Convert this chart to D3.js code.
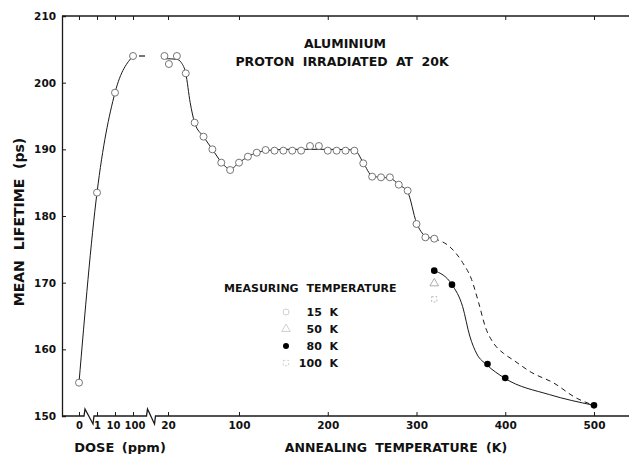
<!DOCTYPE html>
<html>
<head>
<meta charset="utf-8">
<script src="https://cdn.jsdelivr.net/npm/d3@7"></script>
<style>
  body { margin: 0; background: #fff; }
  svg text { font-family: "DejaVu Sans", sans-serif; font-weight: bold; fill: #111; }
</style>
</head>
<body>
<div id="chart"></div>
<script>
// dose part (left of the break)
var doseCats = ["0", "1", "10", "100"];
var doseVals = [155, 183.5, 198.5, 204];

// annealing, measured at 15 K (open circles)
var anneal15K = [16, 21, 30, 40, 50, 60, 70, 80, 90, 100, 110, 120, 130, 140, 150, 160, 170, 180, 190, 200, 210, 220, 230, 240, 250, 260, 270, 280, 290, 300, 310, 320];
var anneal15V = [204, 202.8, 204, 201.4, 194, 191.9, 190, 188, 186.9, 188, 188.9, 189.5, 189.9, 189.8, 189.8, 189.8, 189.8, 190.5, 190.5, 189.8, 189.8, 189.8, 189.8, 187.9, 185.9, 185.8, 185.8, 184.7, 183.8, 178.8, 176.8, 176.6];

// hand drawn guide through the 15 K points
var fit15K = [17, 30, 35, 40, 45, 50, 60, 70, 80, 90, 100, 110, 120, 130, 140, 150, 200, 230, 240, 250, 260, 270, 280, 290, 300, 310, 320];
var fit15V = [203.6, 203.5, 203, 201.4, 197, 194, 191.9, 190, 188.1, 187, 188, 188.9, 189.5, 189.8, 189.9, 190, 190, 189.9, 188, 186, 185.8, 185.7, 184.7, 183.6, 179, 177, 176.6];

// dashed continuation of the 15 K curve
var dashK = [320, 339, 352, 362, 370, 378, 387, 398, 409, 430, 454, 480, 500];
var dashV = [176.6, 175.2, 173, 170.5, 167, 163.2, 160.9, 159.4, 158.4, 156.5, 155, 152.7, 151.6];

// measured at 80 K (filled)
var anneal80K = [320, 340, 380, 400, 500];
var anneal80V = [171.8, 169.7, 157.8, 155.7, 151.6];
var fit80K = [320, 340, 352, 360, 368, 379, 399, 450, 500];
var fit80V = [171.8, 169.7, 166.4, 162, 159.3, 157.7, 155.7, 153.2, 151.6];

// single points at 50 K and 100 K
var anneal50 = [[320, 169.9]];
var anneal100 = [[320, 167.5]];

var yTicks = [150, 160, 170, 180, 190, 200, 210];
var annealTicks = [20, 100, 200, 300, 400, 500];
var legendLabels = ["15  K", "50  K", "80  K", "100  K"];

var width = 630, height = 454;
var svg = d3.select("#chart").append("svg")
    .attr("width", width).attr("height", height);

var y = d3.scaleLinear().domain([150, 210]).range([416, 16]);
var xd = d3.scalePoint().domain(doseCats).range([79, 133]);
var xa = d3.scaleLinear().domain([20, 500]).range([168, 594]);

var ink = "#1a1a1a";

// left axis, ticks inward
var yAxis = svg.append("g")
    .attr("transform", "translate(62,0)")
    .call(d3.axisLeft(y).tickValues(yTicks).tickSize(-4).tickPadding(6));
yAxis.select(".domain").attr("stroke", ink).attr("stroke-width", 1.3);
yAxis.selectAll(".tick line").attr("stroke", ink);
yAxis.selectAll("text").style("font-size", "10.5px").style("font-family", "DejaVu Sans").style("font-weight", "bold");

// bottom axis line with the two breaks
var base = y(150);
var b1 = (xd("0") + xd("1")) / 2 - 4;
var b2 = (xd("100") + xa(20)) / 2 - 4;
var axisPath = d3.path();
axisPath.moveTo(62, base);
axisPath.lineTo(b1, base);
axisPath.lineTo(b1 + 1, base - 7);
axisPath.lineTo(b1 + 9, base + 8);
axisPath.lineTo(b1 + 10, base);
axisPath.lineTo(b2, base);
axisPath.lineTo(b2 + 1, base - 7);
axisPath.lineTo(b2 + 8, base + 8);
axisPath.lineTo(b2 + 9, base);
axisPath.lineTo(629, base);
svg.append("path").attr("d", axisPath.toString())
    .attr("fill", "none").attr("stroke", ink).attr("stroke-width", 1.3);

var gDoseB = svg.append("g").attr("transform", "translate(0," + base + ")")
    .call(d3.axisBottom(xd).tickSize(-4).tickPadding(6));
var gAnnB = svg.append("g").attr("transform", "translate(0," + base + ")")
    .call(d3.axisBottom(xa).tickValues(annealTicks).tickSize(-4).tickPadding(6));
[gDoseB, gAnnB].forEach(function (g) {
    g.select(".domain").remove();
    g.selectAll(".tick line").attr("stroke", ink);
    g.selectAll("text").style("font-size", "10.5px").style("font-family", "DejaVu Sans").style("font-weight", "bold");
});
// the dose labels sit a bit apart in the original
gDoseB.selectAll("text").attr("dx", function (d) { return d === "10" ? -2 : (d === "100" ? 1.5 : 0); })
    .style("font-size", "10px");

// top border with ticks down
svg.append("line").attr("x1", 62).attr("x2", 629).attr("y1", y(210)).attr("y2", y(210))
    .attr("stroke", ink).attr("stroke-width", 1.3);
var gDoseT = svg.append("g").attr("transform", "translate(0," + y(210) + ")")
    .call(d3.axisTop(xd).tickSize(-4).tickFormat(""));
var gAnnT = svg.append("g").attr("transform", "translate(0," + y(210) + ")")
    .call(d3.axisTop(xa).tickValues(annealTicks).tickSize(-4).tickFormat(""));
[gDoseT, gAnnT].forEach(function (g) {
    g.select(".domain").remove();
    g.selectAll(".tick line").attr("stroke", ink);
});

// curves
var doseLine = d3.line().x(function (d, i) { return xd(doseCats[i]); }).y(function (d) { return y(d); })
    .curve(d3.curveMonotoneX);
svg.append("path").attr("d", doseLine(doseVals))
    .attr("fill", "none").attr("stroke", ink).attr("stroke-width", 1);

var kvLine = d3.line().x(function (d) { return xa(d[0]); }).y(function (d) { return y(d[1]); })
    .curve(d3.curveMonotoneX);
function pairs(ks, vs) { return ks.map(function (k, i) { return [k, vs[i]]; }); }

svg.append("path").attr("d", kvLine(pairs(fit15K, fit15V)))
    .attr("fill", "none").attr("stroke", ink).attr("stroke-width", 1);
svg.append("path").attr("d", kvLine(pairs(dashK, dashV)))
    .attr("fill", "none").attr("stroke", ink).attr("stroke-width", 1)
    .attr("stroke-dasharray", "5,4");
svg.append("path").attr("d", kvLine(pairs(fit80K, fit80V)))
    .attr("fill", "none").attr("stroke", ink).attr("stroke-width", 1);

// little dash after the last dose point
svg.append("line")
    .attr("x1", xd("100") + 6).attr("x2", xd("100") + 12)
    .attr("y1", y(204)).attr("y2", y(204))
    .attr("stroke", ink).attr("stroke-width", 1.2);

// markers
var openStroke = "#666";
svg.selectAll(".dose-pt").data(doseVals).enter().append("circle")
    .attr("cx", function (d, i) { return xd(doseCats[i]); }).attr("cy", function (d) { return y(d); })
    .attr("r", 3.5).attr("fill", "#fff").attr("stroke", openStroke).attr("stroke-width", 0.9);

svg.selectAll(".a15").data(pairs(anneal15K, anneal15V)).enter().append("circle")
    .attr("cx", function (d) { return xa(d[0]); }).attr("cy", function (d) { return y(d[1]); })
    .attr("r", 3.5).attr("fill", "#fff").attr("stroke", openStroke).attr("stroke-width", 0.9);

svg.selectAll(".a80").data(pairs(anneal80K, anneal80V)).enter().append("circle")
    .attr("cx", function (d) { return xa(d[0]); }).attr("cy", function (d) { return y(d[1]); })
    .attr("r", 3.3).attr("fill", "#000");

var tri = d3.symbol().type(d3.symbolTriangle).size(32);
var sq = d3.symbol().type(d3.symbolSquare).size(28);
svg.selectAll(".a50").data(anneal50).enter().append("path")
    .attr("d", tri)
    .attr("transform", function (d) { return "translate(" + xa(d[0]) + "," + y(d[1]) + ")"; })
    .attr("fill", "none").attr("stroke", "#999").attr("stroke-width", 0.8);
svg.selectAll(".a100").data(anneal100).enter().append("path")
    .attr("d", sq)
    .attr("transform", function (d) { return "translate(" + xa(d[0]) + "," + y(d[1]) + ")"; })
    .attr("fill", "none").attr("stroke", "#aaa").attr("stroke-width", 0.8)
    .attr("stroke-dasharray", "2,2");

// titles
svg.append("text").attr("x", 345).attr("y", 48).attr("text-anchor", "middle")
    .style("font-size", "12.5px").text("ALUMINIUM");
svg.append("text").attr("x", 342).attr("y", 66).attr("text-anchor", "middle")
    .style("font-size", "12.5px").style("word-spacing", "4px").text("PROTON IRRADIATED AT 20K");

svg.append("text").attr("x", 120).attr("y", 452).attr("text-anchor", "middle")
    .style("font-size", "13px").style("word-spacing", "3px").text("DOSE (ppm)");
svg.append("text").attr("x", 396).attr("y", 452).attr("text-anchor", "middle")
    .style("font-size", "12.5px").style("word-spacing", "4px").text("ANNEALING TEMPERATURE (K)");
svg.append("text").attr("transform", "translate(24,222) rotate(-90)").attr("text-anchor", "middle")
    .style("font-size", "14px").style("word-spacing", "5px").text("MEAN LIFETIME (ps)");

// legend
svg.append("text").attr("x", 224).attr("y", 292)
    .style("font-size", "11px").style("word-spacing", "4px").text("MEASURING TEMPERATURE");
var legY = [312, 329, 346, 363];
var leg = svg.selectAll(".leg").data(legendLabels).enter().append("g")
    .attr("transform", function (d, i) { return "translate(0," + legY[i] + ")"; });
leg.append("text").attr("x", 338).attr("y", 4).attr("text-anchor", "end")
    .style("font-size", "11px").style("white-space", "pre").attr("xml:space", "preserve")
    .text(function (d) { return d; });
leg.each(function (d, i) {
    var g = d3.select(this);
    if (i === 0) g.append("circle").attr("cx", 286).attr("r", 3).attr("fill", "none").attr("stroke", "#bbb").attr("stroke-width", 0.7);
    if (i === 1) g.append("path").attr("d", tri).attr("transform", "translate(286,0)").attr("fill", "none").attr("stroke", "#bbb").attr("stroke-width", 0.7);
    if (i === 2) g.append("circle").attr("cx", 286).attr("r", 3).attr("fill", "#000");
    if (i === 3) g.append("path").attr("d", sq).attr("transform", "translate(286,0)").attr("fill", "none").attr("stroke", "#bbb").attr("stroke-width", 0.7).attr("stroke-dasharray", "2,2");
});
</script>
</body>
</html>
